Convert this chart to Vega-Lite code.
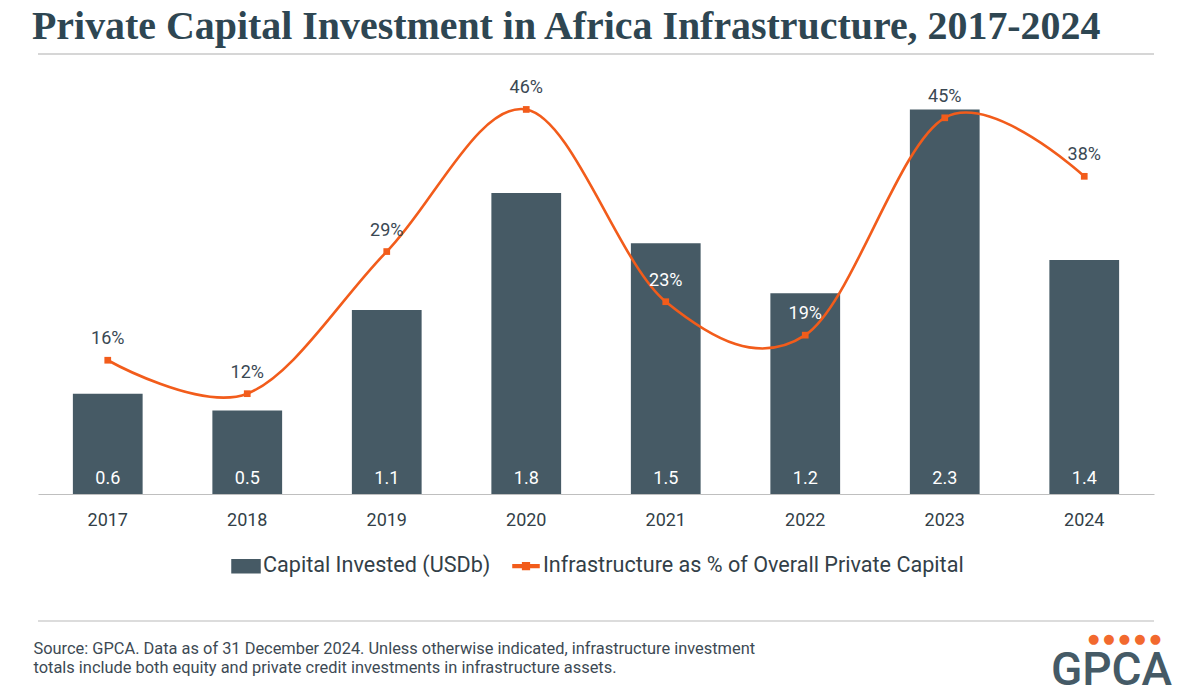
{
  "$schema": "https://vega.github.io/schema/vega-lite/v6.json",
  "width": 1116,
  "height": 418,
  "autosize": {"type": "none"},
  "padding": {"left": 38, "top": 76, "right": 46, "bottom": 203},
  "background": "white",
  "title": {
    "text": "Private Capital Investment in Africa Infrastructure, 2017-2024",
    "anchor": "start",
    "frame": "group",
    "font": "Liberation Serif",
    "fontSize": 39.9,
    "fontWeight": "bold",
    "color": "#2e4652",
    "baseline": "alphabetic",
    "offset": -26,
    "dx": -6
  },
  "config": {
    "view": {"stroke": null},
    "font": "Roboto"
  },
  "data": {
    "values": [
      {"year": "2017", "usd": 0.6, "pct": 0.16},
      {"year": "2018", "usd": 0.5, "pct": 0.12},
      {"year": "2019", "usd": 1.1, "pct": 0.29},
      {"year": "2020", "usd": 1.8, "pct": 0.46},
      {"year": "2021", "usd": 1.5, "pct": 0.23},
      {"year": "2022", "usd": 1.2, "pct": 0.19},
      {"year": "2023", "usd": 2.3, "pct": 0.45},
      {"year": "2024", "usd": 1.4, "pct": 0.38}
    ]
  },
  "resolve": {"scale": {"y": "independent"}, "axis": {"y": "independent"}},
  "layer": [
    {
      "layer": [
        {
          "mark": {"type": "bar", "color": "#465a65"},
          "encoding": {
            "x": {
              "field": "year",
              "type": "ordinal",
              "scale": {"paddingInner": 0.5, "paddingOuter": 0.25},
              "axis": {
                "labelAngle": 0,
                "labelFontSize": 18,
                "labelColor": "#333f48",
                "labelPadding": 17,
                "ticks": false,
                "domainColor": "#bfbfbf",
                "domainWidth": 1.2,
                "grid": false,
                "title": [
                  "Source: GPCA. Data as of 31 December 2024. Unless otherwise indicated, infrastructure investment",
                  "totals include both equity and private credit investments in infrastructure assets."
                ],
                "titleFont": "Roboto",
                "titleFontSize": 16.4,
                "titleFontWeight": "normal",
                "titleColor": "#3d4a54",
                "titleAnchor": "start",
                "titleAlign": "left",
                "titleBaseline": "alphabetic",
                "titleLineHeight": 19,
                "titleX": -5,
                "titleY": 159
              }
            },
            "y": {
              "field": "usd",
              "type": "quantitative",
              "scale": {"domain": [0, 2.5], "nice": false},
              "axis": {
                "labels": false,
                "ticks": false,
                "domain": false,
                "grid": false,
                "title": "● ● ● ● ●",
                "titleFont": "DejaVu Sans",
                "titleFontSize": 13,
                "titleFontWeight": "normal",
                "titleColor": "#f2692e",
                "titleAngle": 0,
                "titleAlign": "center",
                "titleBaseline": "middle",
                "titleX": 1086,
                "titleY": 562
              }
            },
            "color": {
              "datum": "Capital Invested (USDb)",
              "scale": {
                "domain": ["Capital Invested (USDb)", "Infrastructure as % of Overall Private Capital"],
                "range": ["#465a65", "#f25c1b"]
              },
              "legend": {
                "orient": "none",
                "legendX": 193,
                "legendY": 475,
                "direction": "horizontal",
                "title": null,
                "labelFont": "Roboto",
                "labelFontSize": 21.6,
                "labelColor": "#333f48",
                "labelOffset": 2,
                "labelLimit": 600,
                "columnPadding": 18,
                "symbolSize": 784,
                "encode": {
                  "symbols": {
                    "update": {
                      "shape": {"signal": "datum.value === 'Capital Invested (USDb)' ? 'M-1,-0.46H1V0.46H-1Z' : 'M-0.93,-0.1H0.93V0.1H-0.93Z M-0.24,-0.24H0.24V0.24H-0.24Z'"},
                      "fill": {"signal": "datum.value === 'Capital Invested (USDb)' ? '#465a65' : '#f25c1b'"},
                      "stroke": {"value": "transparent"},
                      "size": {"value": 784},
                      "opacity": {"value": 1}
                    }
                  }
                }
              }
            }
          }
        },
        {
          "mark": {"type": "text", "color": "white", "fontSize": 18, "baseline": "middle", "dy": -15},
          "encoding": {
            "x": {"field": "year", "type": "ordinal"},
            "y": {"datum": 0, "type": "quantitative"},
            "text": {"field": "usd", "type": "quantitative", "format": ".1f"}
          }
        },
        {
          "data": {"values": [{}]},
          "mark": {"type": "rule", "color": "#c9c9c9", "strokeWidth": 1.5},
          "encoding": {"y": {"datum": 2.632, "type": "quantitative"}}
        },
        {
          "data": {"values": [{}]},
          "mark": {"type": "rule", "color": "#d0d0d0", "strokeWidth": 1.5},
          "encoding": {"y": {"datum": -0.76, "type": "quantitative"}}
        }
      ]
    },
    {
      "layer": [
        {
          "mark": {"type": "line", "interpolate": "cardinal", "strokeWidth": 2.6},
          "encoding": {
            "x": {"field": "year", "type": "ordinal"},
            "y": {
              "field": "pct",
              "type": "quantitative",
              "scale": {"domain": [0, 0.5], "nice": false},
              "axis": {
                "orient": "right",
                "labels": false,
                "ticks": false,
                "domain": false,
                "grid": false,
                "title": "GPCA",
                "titleFont": "Roboto",
                "titleFontSize": 46,
                "titleFontWeight": 500,
                "titleColor": "#455a66",
                "titleAngle": 0,
                "titleAlign": "center",
                "titleBaseline": "alphabetic",
                "titleX": -43,
                "titleY": 608
              }
            },
            "color": {"datum": "Infrastructure as % of Overall Private Capital"}
          }
        },
        {
          "mark": {"type": "point", "shape": "square", "size": 45, "filled": true, "opacity": 1, "color": "#f25c1b"},
          "encoding": {
            "x": {"field": "year", "type": "ordinal"},
            "y": {"field": "pct", "type": "quantitative"}
          }
        },
        {
          "mark": {"type": "text", "fontSize": 18, "baseline": "middle", "dy": -21},
          "encoding": {
            "x": {"field": "year", "type": "ordinal"},
            "y": {"field": "pct", "type": "quantitative"},
            "text": {"field": "pct", "type": "quantitative", "format": ".0%"},
            "color": {
              "condition": {"test": "datum.pct * 2 + 0.05 < datum.usd / 2.5", "value": "white"},
              "value": "#3a4853"
            }
          }
        }
      ]
    }
  ]
}
